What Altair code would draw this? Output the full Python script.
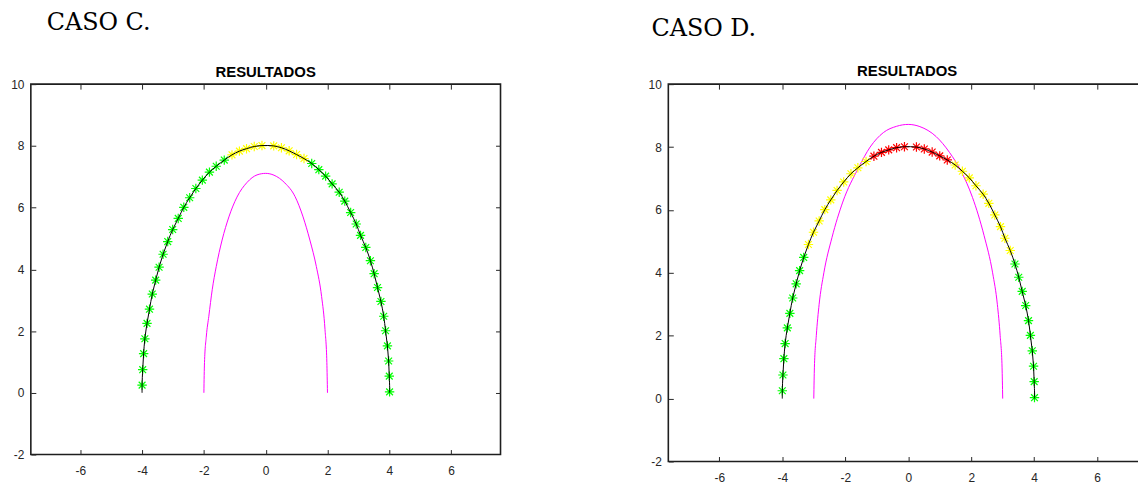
import altair as alt
import pandas as pd

# ---------------- data ----------------
x_ticks = [-6, -4, -2, 0, 2, 4, 6]
y_ticks = [-2, 0, 2, 4, 6, 8, 10]
y_ticks_right = [0, 2, 4, 6, 8]

# sample points (asterisks) along the black curve, left to right
mark_x = [-4.00, -3.98, -3.95, -3.91, -3.84, -3.76, -3.67, -3.56, -3.45, -3.32,
          -3.17, -3.01, -2.83, -2.65, -2.46, -2.26, -2.05, -1.82, -1.60, -1.34,
          -1.09, -0.85, -0.62, -0.37, -0.12,
          0.26, 0.51, 0.76, 1.00, 1.24, 1.49, 1.72, 1.94, 2.15, 2.38,
          2.56, 2.75, 2.93, 3.07, 3.24, 3.39, 3.51, 3.62, 3.73, 3.82,
          3.88, 3.94, 3.98, 4.00, 4.01]
mark_y = [0.25, 0.75, 1.27, 1.75, 2.25, 2.71, 3.20, 3.65, 4.07, 4.49,
          4.90, 5.29, 5.65, 6.01, 6.32, 6.62, 6.89, 7.15, 7.34, 7.54,
          7.71, 7.83, 7.91, 7.98, 8.01,
          8.00, 7.94, 7.84, 7.72, 7.59, 7.43, 7.23, 7.02, 6.77, 6.50,
          6.21, 5.84, 5.47, 5.10, 4.71, 4.28, 3.86, 3.41, 2.96, 2.48,
          2.01, 1.52, 1.03, 0.54, 0.03]

G, Y, R = "#00FF00", "#FFFF00", "#FF0000"
colors_c = [G] * 20 + [Y] * 10 + [G] * 20
colors_d = [G] * 10 + [Y] * 10 + [R] * 10 + [Y] * 10 + [G] * 10

# black curve: starts at (-4, 0), goes through the samples, ends at (4, 0)
curve_x = [-4.00] + mark_x + [4.00]
curve_y = [0.00] + mark_y + [0.00]

# magenta curve, case C
mag_c_x = [-2.00, -1.98, -1.92, -1.84, -1.73, -1.60, -1.41, -1.19, -0.93, -0.60, -0.28,
           0.00, 0.27, 0.62, 0.95, 1.21, 1.43, 1.64, 1.81, 1.92, 1.98, 2.00]
mag_c_y = [0.00, 0.98, 1.84, 2.48, 3.34, 4.09, 4.95, 5.70, 6.34, 6.82, 7.06,
           7.11, 7.05, 6.80, 6.36, 5.70, 4.95, 4.09, 3.12, 2.05, 0.98, 0.00]

# magenta curve, case D
mag_d_x = [-3.00, -2.98, -2.92, -2.83, -2.68, -2.42, -2.08, -1.58, -1.21, -0.79, -0.37,
           0.00, 0.37, 0.89, 1.31, 1.68, 2.04, 2.41, 2.68, 2.83, 2.92, 2.98, 3.00]
mag_d_y = [0.00, 1.00, 2.00, 3.00, 4.00, 5.13, 6.25, 7.34, 8.00, 8.46, 8.66,
           8.72, 8.65, 8.33, 7.83, 7.23, 6.40, 5.18, 4.00, 3.00, 2.00, 1.00, 0.00]

ASTERISK = "M-1,0L1,0M0,-1L0,1M-0.72,-0.72L0.72,0.72M-0.72,0.72L0.72,-0.72"
AXC = "#262626"
FRAME = "#1e1e1e"
TICK = 5


def axis(orient, values, labels, pad=7):
    kw = dict(orient=orient, values=values, offset=-TICK, tickSize=TICK,
              domain=False, grid=False, title=None, tickColor=AXC, tickWidth=1,
              labels=labels)
    if labels:
        kw.update(labelFont="Liberation Sans", labelFontSize=12, labelColor=AXC,
                  labelPadding=pad, labelExpr="datum.value + ''")
    return alt.Axis(**kw)


def panel(colors, mx, my, w, h, xdom, caso, cx, cy, title_off):
    pts = pd.DataFrame({"x": mark_x, "y": mark_y, "c": colors})
    crv = pd.DataFrame({"x": curve_x, "y": curve_y, "i": list(range(len(curve_x)))})
    mag = pd.DataFrame({"x": mx, "y": my})
    xs = alt.Scale(domain=xdom, nice=False, zero=False)
    ys = alt.Scale(domain=[-2, 10], nice=False, zero=False)

    markers = alt.Chart(pts).mark_point(
        shape=ASTERISK, filled=False, size=90, strokeWidth=1.2, opacity=1
    ).encode(
        x=alt.X("x:Q", scale=xs, axis=axis("bottom", x_ticks, True, 11)),
        y=alt.Y("y:Q", scale=ys, axis=axis("left", y_ticks, True, 7)),
        color=alt.Color("c:N", scale=None),
    )
    black = alt.Chart(crv).mark_line(
        color="black", strokeWidth=1, interpolate="catmull-rom"
    ).encode(
        x=alt.X("x:Q", scale=xs, axis=axis("top", x_ticks, False)),
        y=alt.Y("y:Q", scale=ys, axis=axis("right", y_ticks_right, False)),
        order="i:Q",
    )
    magenta = alt.Chart(mag).mark_line(
        color="#FF00FF", strokeWidth=1, interpolate="monotone"
    ).encode(
        x=alt.X("x:Q", scale=xs, axis=None),
        y=alt.Y("y:Q", scale=ys, axis=None),
    )
    label = alt.Chart(pd.DataFrame({"t": [caso]})).mark_text(
        font="DejaVu Serif", fontSize=24, align="left", baseline="alphabetic",
        color="black"
    ).encode(text="t:N", x=alt.value(cx), y=alt.value(cy))
    title = alt.Chart(pd.DataFrame({"t": ["RESULTADOS"]})).mark_text(
        font="Liberation Sans", fontSize=15, fontWeight="bold", align="center",
        baseline="alphabetic", color="black"
    ).encode(text="t:N", x=alt.value(w / 2), y=alt.value(-title_off))

    return alt.layer(magenta, markers, black, label, title).resolve_axis(
        x="independent", y="independent"
    ).properties(
        width=w, height=h,
        view=alt.ViewBackground(stroke=FRAME, strokeWidth=1.6),
    )


left = panel(colors_c, mag_c_x, mag_c_y, 473, 373, [-7.6, 7.6], "CASO C.", 16, -55, 7)
right = panel(colors_d, mag_d_x, mag_d_y, 481, 380, [-7.62, 7.55], "CASO D.", -17, -49, 8)

chart = alt.hconcat(left, right, spacing=169, bounds="flush").properties(
    autosize=alt.AutoSizeParams(type="none"),
    padding={"left": 23, "top": 75, "right": 1115, "bottom": 406},
).configure_view(stroke=FRAME, strokeWidth=1.6).configure(background="white")

chart.save("out.html", embed_options={"renderer": "svg", "actions": False})
